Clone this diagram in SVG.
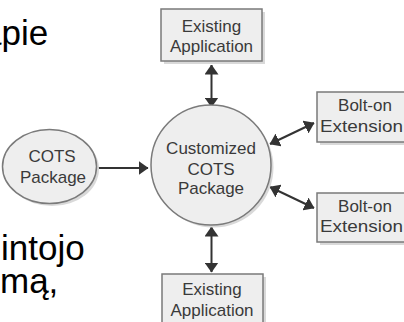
<svg xmlns="http://www.w3.org/2000/svg" width="404" height="322" viewBox="0 0 404 322">
  <defs>
    <style>
      .bg { font-family: "Liberation Sans", Arial, sans-serif; font-size: 35px; fill: #000; }
      .lbl { font-family: "Liberation Sans", Arial, sans-serif; font-size: 17px; fill: #3a3a3a; text-anchor: middle; }
      .box { fill: #eeeeee; stroke: #7a7a7a; stroke-width: 1.5; }
      .shadow { fill: #d9d9d9; }
      .conn { stroke: #333; stroke-width: 2; fill: none; }
    </style>
    <marker id="ah" markerUnits="userSpaceOnUse" markerWidth="10" markerHeight="14" refX="9.5" refY="7" orient="auto-start-reverse">
      <path d="M0,0 L10,7 L0,14 z" fill="#333"/>
    </marker>
  </defs>
  <rect width="404" height="322" fill="#fff"/>

  <g id="background-text">
    <text class="bg" x="-18" y="45">apie</text>
    <text class="bg" x="1" y="260">intojo</text>
    <text class="bg" x="0" y="293">mą,</text>
  </g>

  <g id="connectors">
    <line class="conn" x1="211.5" y1="65" x2="211.5" y2="107" marker-start="url(#ah)" marker-end="url(#ah)"/>
    <line class="conn" x1="211.5" y1="227" x2="211.5" y2="272" marker-start="url(#ah)" marker-end="url(#ah)"/>
    <line class="conn" x1="97" y1="168" x2="148" y2="168" marker-end="url(#ah)"/>
    <line class="conn" x1="270" y1="144" x2="314" y2="123" marker-start="url(#ah)" marker-end="url(#ah)"/>
    <line class="conn" x1="270" y1="187" x2="314" y2="208" marker-start="url(#ah)" marker-end="url(#ah)"/>
  </g>

  <g id="existing-top">
    <rect class="shadow" x="164" y="12" width="101" height="52"/>
    <rect class="box" x="161" y="9" width="101" height="52"/>
    <text class="lbl" x="211.5" y="31.5">Existing</text>
    <text class="lbl" x="211.5" y="52">Application</text>
  </g>

  <g id="existing-bottom">
    <rect class="shadow" x="165" y="277" width="101" height="52"/>
    <rect class="box" x="162" y="274" width="101" height="52"/>
    <text class="lbl" x="212" y="295">Existing</text>
    <text class="lbl" x="212" y="316">Application</text>
  </g>

  <g id="bolt-on-top">
    <rect class="shadow" x="320" y="95" width="100" height="50"/>
    <rect class="box" x="317" y="92" width="100" height="50"/>
    <text class="lbl" x="365" y="111">Bolt-on</text>
    <text class="lbl" x="320" y="131.5" style="text-anchor:start" textLength="83" lengthAdjust="spacingAndGlyphs">Extension</text>
  </g>

  <g id="bolt-on-bottom">
    <rect class="shadow" x="320" y="196" width="100" height="49"/>
    <rect class="box" x="317" y="193" width="100" height="49"/>
    <text class="lbl" x="365" y="212">Bolt-on</text>
    <text class="lbl" x="320" y="232" style="text-anchor:start" textLength="83" lengthAdjust="spacingAndGlyphs">Extension</text>
  </g>

  <g id="cots-package">
    <ellipse class="shadow" cx="52" cy="169" rx="47" ry="37"/>
    <ellipse class="box" cx="49.5" cy="166.5" rx="47" ry="37"/>
    <text class="lbl" x="52" y="162">COTS</text>
    <text class="lbl" x="53" y="183">Package</text>
  </g>

  <g id="customized-cots">
    <circle class="shadow" cx="213.5" cy="167.5" r="60"/>
    <circle class="box" cx="211" cy="165" r="60"/>
    <text class="lbl" x="211" y="154">Customized</text>
    <text class="lbl" x="211" y="175">COTS</text>
    <text class="lbl" x="211" y="194">Package</text>
  </g>
</svg>
